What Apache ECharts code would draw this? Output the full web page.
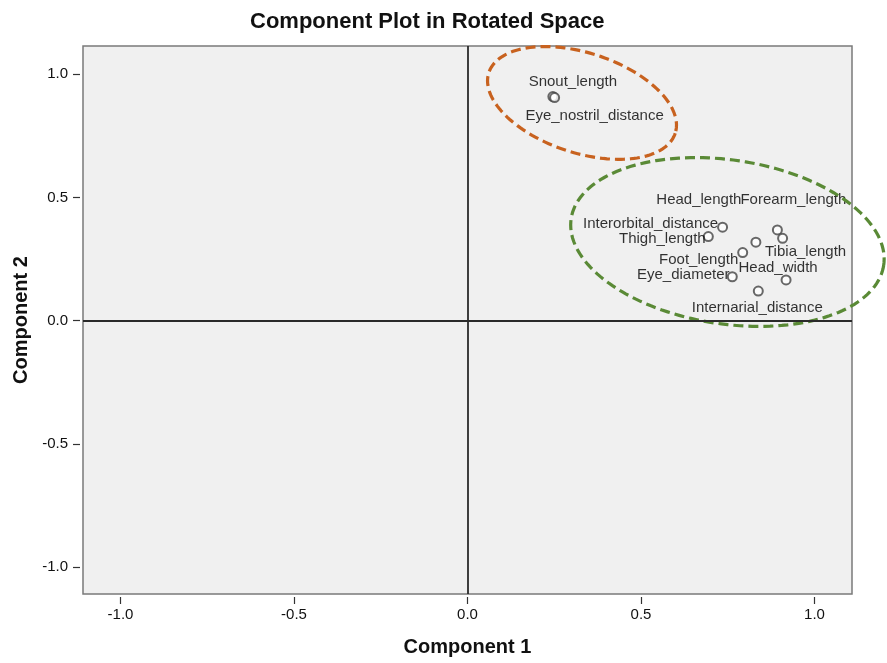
<!DOCTYPE html>
<html>
<head>
<meta charset="utf-8">
<script src="https://cdn.jsdelivr.net/npm/echarts@6/dist/echarts.min.js"></script>
<style>
html,body{margin:0;padding:0;background:#fff;}
#chart{width:887px;height:663px;}
</style>
</head>
<body>
<div id="chart"></div>
<script>
// ---- data ----
const variables = ["Snout_length","Eye_nostril_distance","Head_length","Forearm_length",
  "Interorbital_distance","Thigh_length","Tibia_length","Foot_length","Head_width",
  "Eye_diameter","Internarial_distance"];
const component1 = [0.246, 0.251, 0.831, 0.893, 0.735, 0.694, 0.908, 0.793, 0.918, 0.763, 0.838];
const component2 = [0.909, 0.905, 0.318, 0.368, 0.379, 0.341, 0.334, 0.276, 0.165, 0.178, 0.120];
const tickValues = [-1.0, -0.5, 0.0, 0.5, 1.0];
const groupCenters1 = [0.330, 0.749];
const groupCenters2 = [0.883, 0.319];

// ---- styling (label placement, ellipse geometry) ----
const labelOffsets = {
  "Snout_length": [20, -15],
  "Eye_nostril_distance": [40, 18],
  "Head_length": [-57, -42],
  "Forearm_length": [16, -30],
  "Interorbital_distance": [-72, -3],
  "Thigh_length": [-46, 2],
  "Tibia_length": [23, 14],
  "Foot_length": [-44, 7],
  "Head_width": [-8, -12],
  "Eye_diameter": [-49, -2],
  "Internarial_distance": [-1, 17]
};
const ellipseStyle = [
  {a: 98, b: 50, rot: 18, color: '#c8621f'},
  {a: 158, b: 82, rot: 8.5, color: '#5a8a36'}
];

const FONT = '"Liberation Sans", Arial, sans-serif';

const pointData = variables.map((n, i) => ({
  name: n,
  value: [component1[i], component2[i]],
  label: {offset: labelOffsets[n]}
}));

const chart = echarts.init(document.getElementById('chart'), null, {renderer: 'canvas'});
chart.setOption({
  animation: false,
  backgroundColor: '#ffffff',
  title: {
    text: 'Component Plot in Rotated Space',
    left: 245, top: 6,
    textStyle: {fontFamily: FONT, fontSize: 22, fontWeight: 'bold', color: '#111'}
  },
  grid: {
    left: 83, top: 46, width: 769, height: 548,
    show: true, backgroundColor: '#f0f0f0', borderColor: '#7a7a7a', borderWidth: 1.5
  },
  xAxis: {
    type: 'value', min: -1.108, max: 1.108, offset: 3,
    name: 'Component 1', nameLocation: 'middle', nameGap: 40,
    nameTextStyle: {fontFamily: FONT, fontSize: 20, fontWeight: 'bold', color: '#111'},
    axisLine: {show: false, onZero: false},
    axisTick: {show: true, length: 7, customValues: tickValues, lineStyle: {color: '#333', width: 1.2}},
    axisLabel: {customValues: tickValues, margin: 10, fontFamily: FONT, fontSize: 15, color: '#111',
      formatter: v => v.toFixed(1)},
    splitLine: {show: false}
  },
  yAxis: {
    type: 'value', min: -1.109, max: 1.114, offset: 3,
    name: 'Component 2', nameLocation: 'middle', nameGap: 45, nameRotate: 90,
    nameTextStyle: {fontFamily: FONT, fontSize: 20, fontWeight: 'bold', color: '#111'},
    axisLine: {show: false, onZero: false},
    axisTick: {show: true, length: 7, customValues: tickValues, lineStyle: {color: '#333', width: 1.2}},
    axisLabel: {customValues: tickValues, margin: 12, fontFamily: FONT, fontSize: 15, color: '#111',
      formatter: v => v.toFixed(1)},
    splitLine: {show: false}
  },
  series: [
    {
      type: 'scatter',
      data: pointData,
      symbol: 'emptyCircle',
      symbolSize: 9,
      itemStyle: {color: '#444', borderColor: '#444', borderWidth: 1.6},
      label: {
        show: true, position: 'inside', formatter: p => p.name,
        align: 'center', verticalAlign: 'middle',
        fontFamily: FONT, fontSize: 15, color: '#000', textBorderWidth: 0
      },
      markLine: {
        silent: true, symbol: 'none', animation: false,
        label: {show: false},
        lineStyle: {color: '#2a2a2a', width: 1.8, type: 'solid'},
        data: [{xAxis: 0}, {yAxis: 0}]
      },
      z: 3
    },
    {
      type: 'custom',
      clip: false,
      data: groupCenters1.map((c, i) => [c, groupCenters2[i]]),
      renderItem: function (params, api) {
        const e = ellipseStyle[params.dataIndex];
        const c = api.coord([api.value(0), api.value(1)]);
        const th = e.rot * Math.PI / 180;
        const pts = [];
        const N = 160;
        for (let k = 0; k <= N; k++) {
          const t = k / N * 2 * Math.PI;
          const x = e.a * Math.cos(t), y = e.b * Math.sin(t);
          pts.push([c[0] + x * Math.cos(th) - y * Math.sin(th), c[1] + x * Math.sin(th) + y * Math.cos(th)]);
        }
        return {
          type: 'polyline',
          shape: {points: pts},
          style: {fill: 'none', stroke: e.color, lineWidth: 3.2, lineDash: [10, 5]}
        };
      },
      z: 4
    }
  ]
});
</script>
</body>
</html>
